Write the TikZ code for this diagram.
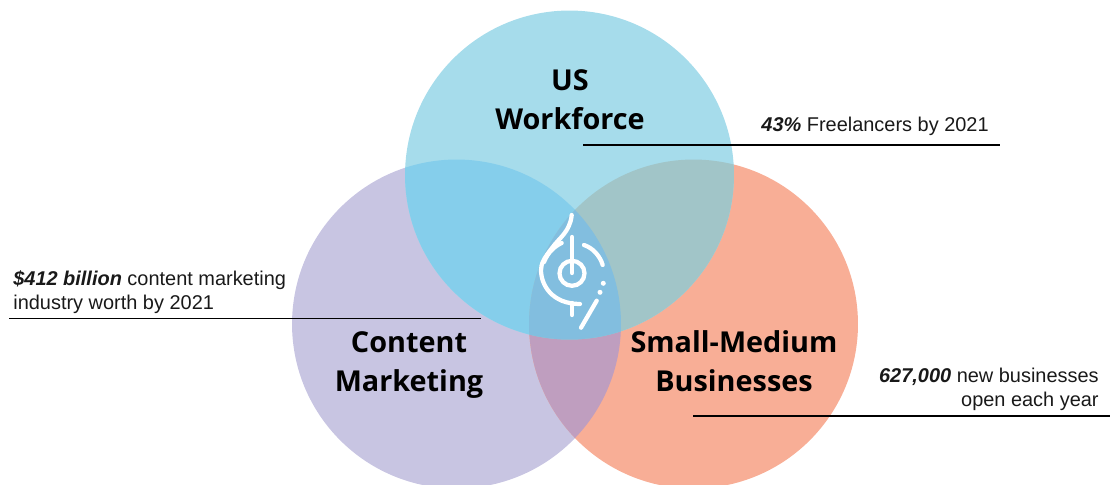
\documentclass[tikz,border=0pt]{standalone}
\usepackage{fontspec}
\setmainfont{Liberation Sans}
\newfontfamily\headfont{Open Sans}
\usepackage{xcolor}
\definecolor{topblue}{HTML}{A6DCEB}
\definecolor{leftlilac}{HTML}{C8C5E2}
\definecolor{rightsalmon}{HTML}{F8AE96}
\definecolor{bluelilac}{HTML}{85CEEB}
\definecolor{bluesalmon}{HTML}{A1C5C8}
\definecolor{lilacsalmon}{HTML}{BF9EBF}
\definecolor{allthree}{HTML}{82BEDF}

\begin{document}
\begin{tikzpicture}[x=0.02cm,y=-0.02cm]

\tikzset{
    head/.style = {
    font=\headfont\bfseries\fontsize{16.4}{22.3}\selectfont,
    align=center,
    text=black,
    inner sep=0pt
    },
    note/.style = {
    font=\fontsize{11.35}{13.7}\selectfont,
    text=black!90,
    inner sep=0pt
    },
    icon/.style = {
    draw=white,
    line width=0.085cm,
    line cap=round
    }
}

\tikzstyle{leader}=[draw=black, line width=1pt]

\useasboundingbox (0,0) rectangle (1111,484);

\def\rad{3.29cm}
\coordinate (c-top) at (569.5,175);
\coordinate (c-left) at (456.5,324);
\coordinate (c-right) at (693.5,324);

\fill[leftlilac] (c-left) circle (\rad);
\fill[rightsalmon] (c-right) circle (\rad);
\fill[topblue] (c-top) circle (\rad);

\begin{scope}
\clip (c-left) circle (\rad);
\fill[lilacsalmon] (c-right) circle (\rad);
\fill[bluelilac] (c-top) circle (\rad);
\end{scope}
\begin{scope}
\clip (c-right) circle (\rad);
\fill[bluesalmon] (c-top) circle (\rad);
\clip (c-left) circle (\rad);
\fill[allthree] (c-top) circle (\rad);
\end{scope}

\node (us) [head] at (570,99.5) {US\\Workforce};
\node (content) [head] at (409,365) {Content\\Marketing};
\node (small) [head] at (734,361.5) {Small-Medium\\Businesses};

\node (free) [note, anchor=base east] at (989,131) {\textbf{\textit{43\%}} Freelancers by 2021};
\node (worth) [note, align=left, anchor=west] at (13,292) {\textbf{\textit{\$412 billion}} content marketing\\industry worth by 2021};
\node (open) [note, align=right, anchor=east] at (1099,389) {\textbf{\textit{627,000}} new businesses\\open each year};

\coordinate (free-a) at (583,145);
\coordinate (free-b) at (1000,145);
\coordinate (worth-a) at (9,318.5);
\coordinate (worth-b) at (481,318.5);
\coordinate (open-a) at (693,416);
\coordinate (open-b) at (1110,416);

\foreach \i in {free,worth,open}{
    \draw[leader] (\i-a)--(\i-b);
}

% icon
\draw[icon] (572,273.3) circle (0.25cm);
\draw[icon] (572,237)--(572,273);
\draw[icon] (572,303)--(572,315);
\draw[icon] (596.7,300.7)--(581,327.7);
\draw[icon] (571.7,215) .. controls (570,232) and (559,238) .. (552,248) .. controls (544,258) and (541,264) .. (541,270) .. controls (541,285) and (552,304) .. (580,304);
\draw[icon] (561.7,243) .. controls (555,246) and (548,252) .. (544,262);
\draw[icon] (584,245) .. controls (593,248) and (600,256) .. (602.7,265);
\foreach \x/\y in {603.3/283.3,600/292.3}{
    \fill[white] (\x,\y) circle (0.05cm);
}

\end{tikzpicture}
\end{document}
